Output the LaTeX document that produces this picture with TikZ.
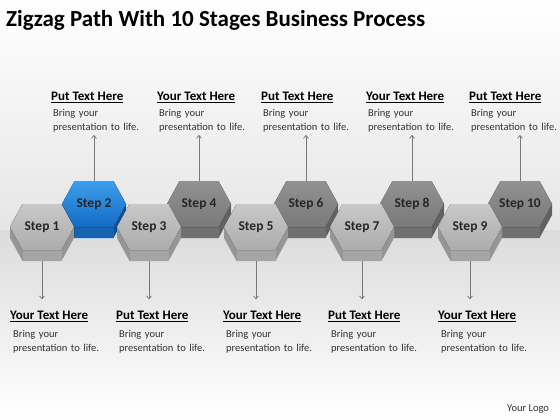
\documentclass[tikz,border=0pt]{standalone}
\usepackage{fontspec}
\setmainfont{Carlito}
\usetikzlibrary{arrows.meta, calc}
\definecolor{paletop}{RGB}{200,200,200}
\definecolor{palebot}{RGB}{172,172,172}
\definecolor{paleside}{RGB}{150,150,150}
\definecolor{palefront}{RGB}{165,165,165}
\definecolor{darktop}{RGB}{145,145,145}
\definecolor{darkbot}{RGB}{122,122,122}
\definecolor{darkside}{RGB}{98,98,98}
\definecolor{darkfront}{RGB}{112,112,112}
\definecolor{bluetop}{RGB}{62,158,234}
\definecolor{bluebot}{RGB}{18,108,196}
\definecolor{blueside}{RGB}{12,80,150}
\definecolor{bluefront}{RGB}{22,100,178}
\definecolor{arrowgray}{RGB}{120,120,120}

% hexagon step: name, x, y, colour set, label
\newcommand{\hexstep}[5]{%
  \begin{scope}[shift={(#2,#3)}]
    \fill[#4side] (-32,0) -- (-19.5,23) -- (19.5,23) -- (32,0) -- (32,11)
      -- (19.5,34) -- (-19.5,34) -- (-32,11) -- cycle;
    \fill[#4front] (-19.5,23) -- (19.5,23) -- (19.5,34) -- (-19.5,34) -- cycle;
    \fill[top color=#4top, bottom color=#4bot] (-32,0) -- (-19.5,-23) -- (19.5,-23)
      -- (32,0) -- (19.5,23) -- (-19.5,23) -- cycle;
  \end{scope}
  \coordinate (#1t) at (#2,#3-23);
  \coordinate (#1b) at (#2,#3+34);
  \node[steplabel] (#1) at (#2,#3) {#5};
}
% underlined heading
\newcommand{\ulhead}[1]{\setbox0\hbox{#1}\rlap{\vrule width \wd0 height -2pt depth 3pt}\box0}

\begin{document}
\begin{tikzpicture}[
    x=1pt, y=-1pt,
    title/.style={font=\fontsize{23}{27}\selectfont\bfseries, inner sep=0pt},
    steplabel/.style={font=\fontsize{13.5}{16}\selectfont\bfseries, text=black!85, inner sep=0pt},
    head/.style={font=\fontsize{13}{15}\selectfont\bfseries, inner sep=0pt},
    bodytext/.style={font=\fontsize{10.5}{14}\selectfont, text=black!80, align=left, text width=100pt, inner sep=2pt},
    logo/.style={font=\fontsize{10.5}{12}\selectfont, text=black!80, inner sep=0pt},
    arrow/.style={-{Straight Barb[length=3pt, width=5pt]}, draw=arrowgray, line width=0.7pt},
]

% ============ background ============
\fill[top color=white, bottom color=black!10] (0,0) rectangle (560,230);
\fill[top color=black!14, bottom color=white] (0,230) rectangle (560,420);
\useasboundingbox (0,0) rectangle (560,420);

% ============ title ============
\node[title, anchor=base west] (title) at (6,27) {Zigzag Path With 10 Stages Business Process};

% ============ upper row ============
\hexstep{s2}{94}{204}{blue}{Step 2}
\hexstep{s4}{199}{204}{dark}{Step 4}
\hexstep{s6}{306}{204}{dark}{Step 6}
\hexstep{s8}{412}{204}{dark}{Step 8}
\hexstep{s10}{520}{204}{dark}{Step 10}

% ============ lower row ============
\hexstep{s1}{42}{227}{pale}{Step 1}
\hexstep{s3}{149}{227}{pale}{Step 3}
\hexstep{s5}{256}{227}{pale}{Step 5}
\hexstep{s7}{362}{227}{pale}{Step 7}
\hexstep{s9}{470}{227}{pale}{Step 9}

% ============ top texts ============
\node[head, anchor=base west] (h2) at (51,100) {\ulhead{Put Text Here}};
\node[head, anchor=base west] (h4) at (157,100) {\ulhead{Your Text Here}};
\node[head, anchor=base west] (h6) at (261,100) {\ulhead{Put Text Here}};
\node[head, anchor=base west] (h8) at (366,100) {\ulhead{Your Text Here}};
\node[head, anchor=base west] (h10) at (469,100) {\ulhead{Put Text Here}};

\node[bodytext, anchor=base west] (b2) at (51,117) {Bring your\\presentation to life.};
\node[bodytext, anchor=base west] (b4) at (157,117) {Bring your\\presentation to life.};
\node[bodytext, anchor=base west] (b6) at (261,117) {Bring your\\presentation to life.};
\node[bodytext, anchor=base west] (b8) at (366,117) {Bring your\\presentation to life.};
\node[bodytext, anchor=base west] (b10) at (469,117) {Bring your\\presentation to life.};

% ============ bottom texts ============
\node[head, anchor=base west] (h1) at (10,319) {\ulhead{Your Text Here}};
\node[head, anchor=base west] (h3) at (116,319) {\ulhead{Put Text Here}};
\node[head, anchor=base west] (h5) at (223,319) {\ulhead{Your Text Here}};
\node[head, anchor=base west] (h7) at (328,319) {\ulhead{Put Text Here}};
\node[head, anchor=base west] (h9) at (438,319) {\ulhead{Your Text Here}};

\node[bodytext, anchor=base west] (b1) at (11,337) {Bring your\\presentation to life.};
\node[bodytext, anchor=base west] (b3) at (117,337) {Bring your\\presentation to life.};
\node[bodytext, anchor=base west] (b5) at (224,337) {Bring your\\presentation to life.};
\node[bodytext, anchor=base west] (b7) at (329,337) {Bring your\\presentation to life.};
\node[bodytext, anchor=base west] (b9) at (439,337) {Bring your\\presentation to life.};

% ============ arrows ============
\draw[arrow] (s2t) -- (s2t |- b2.south);
\draw[arrow] (s4t) -- (s4t |- b4.south);
\draw[arrow] (s6t) -- (s6t |- b6.south);
\draw[arrow] (s8t) -- (s8t |- b8.south);
\draw[arrow] (s10t) -- (s10t |- b10.south);

\draw[arrow, shorten >=11pt] (s1b) -- (s1b |- h1.north);
\draw[arrow, shorten >=11pt] (s3b) -- (s3b |- h3.north);
\draw[arrow, shorten >=11pt] (s5b) -- (s5b |- h5.north);
\draw[arrow, shorten >=11pt] (s7b) -- (s7b |- h7.north);
\draw[arrow, shorten >=11pt] (s9b) -- (s9b |- h9.north);

% ============ logo ============
\node[logo, anchor=base west] (logo) at (507,411) {Your Logo};

\end{tikzpicture}
\end{document}
